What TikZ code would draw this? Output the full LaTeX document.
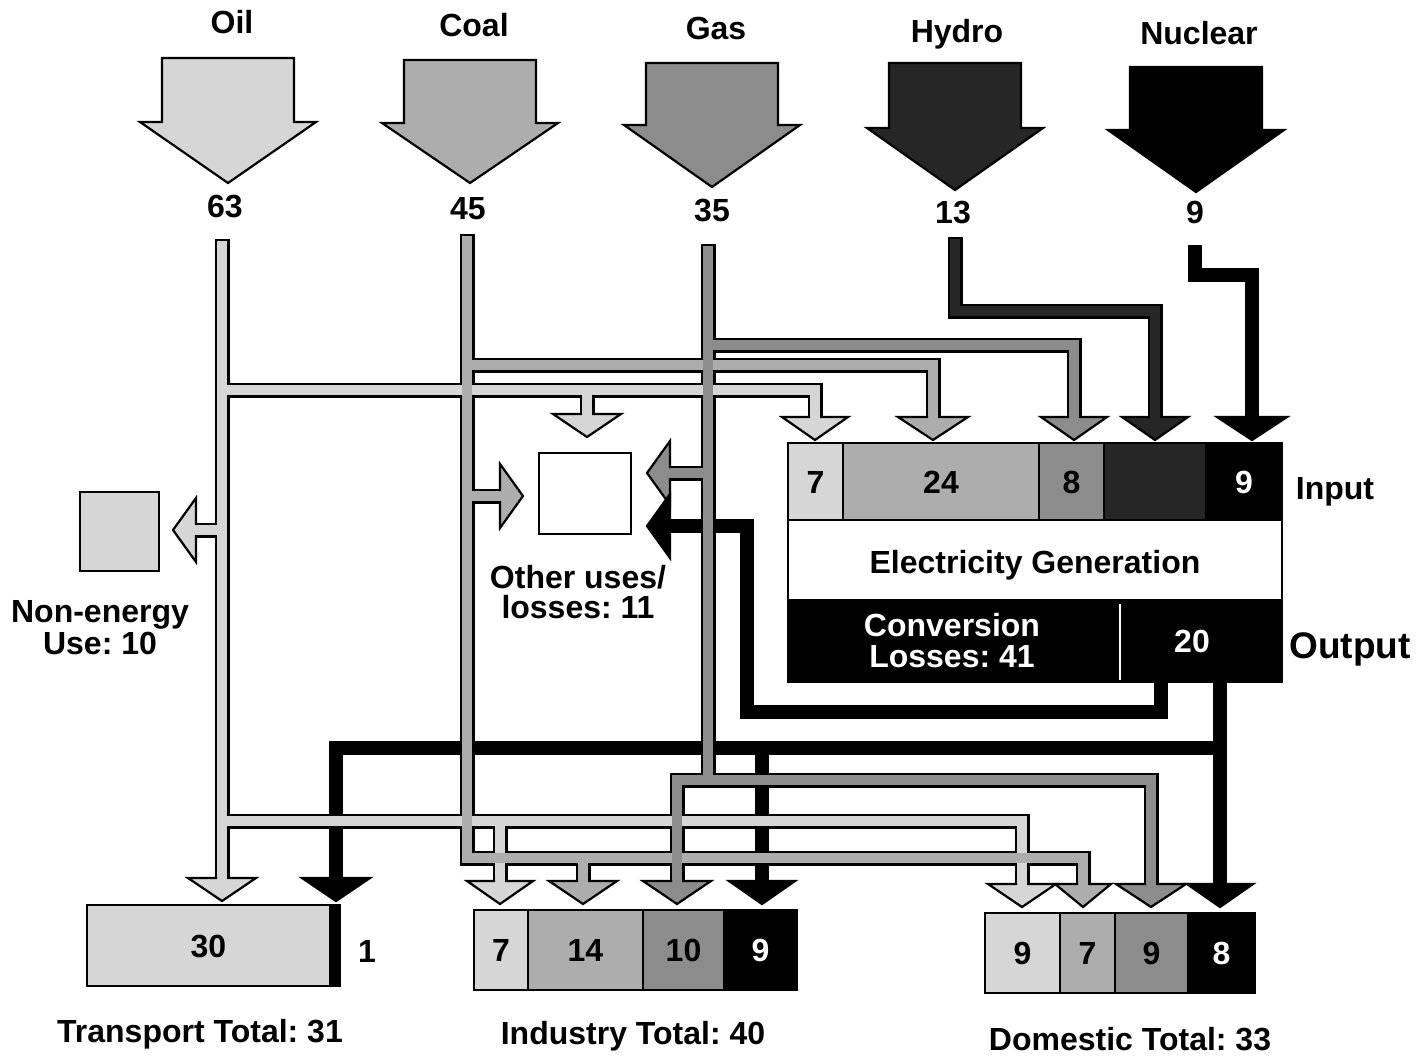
\documentclass[tikz,border=0pt]{standalone}
\usepackage{fontspec}
\setmainfont{Liberation Sans}
\usetikzlibrary{calc}
\frenchspacing
\definecolor{oilc}{gray}{0.84}
\definecolor{coalc}{gray}{0.68}
\definecolor{gasc}{gray}{0.55}
\definecolor{hydroc}{gray}{0.15}
\tikzset{
 lbl/.style={font=\fontsize{32}{36}\selectfont\bfseries, inner sep=0pt, text height=23pt, text depth=0pt},
 wlbl/.style={lbl, text=white},
 cellbox/.style={draw=black, line width=1.8pt, inner sep=0pt, font=\fontsize{32}{36}\selectfont\bfseries, text height=23pt, text depth=0pt},
 bigarrow/.style={draw=black, line width=2.2pt, line join=miter},
 head/.style={draw=black, line width=2.2pt, line join=miter},
 pout/.style={draw=black, line width=15pt, line join=miter, line cap=butt},
 pblk/.style={draw=black, line width=14pt, line join=miter, line cap=butt},
 pfill/.style={line width=10pt, line join=miter, line cap=butt},
 oilP/.style={insert path={(222,240) -- (222,878) (222,390) -- (815,390) -- (815,417) (587,390) -- (587,414) (222,530) -- (196,530) (222,821) -- (1022,821) -- (1022,884) (500,821) -- (500,881)}},
 coalP/.style={insert path={(467,235) -- (467,858) -- (1083,858) -- (1083,884) (467,365) -- (933,365) -- (933,417) (467,496) -- (500,496) (583,858) -- (583,881)}},
 gasP/.style={insert path={(708,245) -- (708,780) (708,345) -- (1074,345) -- (1074,417) (708,473) -- (670,473) (677,881) -- (677,780) -- (1151,780) -- (1151,884)}},
 hydP/.style={insert path={(955,238) -- (955,311) -- (1155,311) -- (1155,417)}},
 nucP/.style={insert path={(1195,245) -- (1195,275) -- (1252,275) -- (1252,417)}},
 elecP/.style={insert path={(1161,682) -- (1161,712) -- (747,712) -- (747,526) -- (670,526) (1220,682) -- (1220,884) (1220,748) -- (336,748) -- (336,878) (762,748) -- (762,881)}},
}
\newcommand\EHsrc[6]{%
 \filldraw[bigarrow, fill=#6] (#2-66,#3) -- (#2+66,#3) -- (#2+66,#4) -- (#2+88,#4) -- (#2,#5) -- (#2-88,#4) -- (#2-66,#4) -- cycle;
 \coordinate (#1) at (#2,#5);}
\newcommand\EHdown[3]{\filldraw[head, fill=#3] ($(#1)+(-5,-23)$) -- ($(#1)+(-#2,-23)$) -- (#1) -- ($(#1)+(#2,-23)$) -- ($(#1)+(5,-23)$);}
\newcommand\EHleft[3]{\filldraw[head, fill=#3] ($(#1)+(23,-5)$) -- ($(#1)+(23,-#2)$) -- (#1) -- ($(#1)+(23,#2)$) -- ($(#1)+(23,5)$);}
\newcommand\EHright[3]{\filldraw[head, fill=#3] ($(#1)+(-23,-5)$) -- ($(#1)+(-23,-#2)$) -- (#1) -- ($(#1)+(-23,#2)$) -- ($(#1)+(-23,5)$);}
\begin{document}
\begin{tikzpicture}[x=1pt,y=-1pt]
\useasboundingbox (0,0) rectangle (1428,1057);
\fill[white] (0,0) rectangle (1428,1057);

% source labels and arrows
\node[lbl] (lOil) at (232,22) {Oil};
\node[lbl] (lCoal) at (474,25) {Coal};
\node[lbl] (lGas) at (716,28) {Gas};
\node[lbl] (lHydro) at (957,31) {Hydro};
\node[lbl] (lNuc) at (1199,33) {Nuclear};
\EHsrc{aOil}{228}{58}{122}{183}{oilc}
\EHsrc{aCoal}{470}{60}{123}{183}{coalc}
\EHsrc{aGas}{712}{63}{125}{187}{gasc}
\EHsrc{aHydro}{955}{63}{128}{190}{hydroc}
\EHsrc{aNuc}{1196}{67}{130}{192}{black}
\node[lbl] (vOil) at (225,206) {63};
\node[lbl] (vCoal) at (468,208) {45};
\node[lbl] (vGas) at (712,210) {35};
\node[lbl] (vHydro) at (953,212) {13};
\node[lbl] (vNuc) at (1195,212) {9};

% boxes
\node[draw, line width=1.8pt, fill=oilc, minimum width=79pt, minimum height=79pt, inner sep=0pt] (nebox) at (119.5,531.5) {};
\node[lbl] (ne1) at (100,611) {Non-energy};
\node[lbl] (ne2) at (100,643) {Use: 10};
\node[draw, line width=1.8pt, fill=white, minimum width=92pt, minimum height=81pt, inner sep=0pt] (oubox) at (585,493.5) {};
\node[lbl] (ou1) at (578,577) {Other uses/};
\node[lbl] (ou2) at (578,607) {losses: 11};

% electricity generation
\node[cellbox, fill=oilc, minimum width=55pt, minimum height=77pt] (in7) at (815.5,481.5) {7};
\node[cellbox, fill=coalc, minimum width=196pt, minimum height=77pt] (in24) at (941,481.5) {24};
\node[cellbox, fill=gasc, minimum width=65pt, minimum height=77pt] (in8) at (1071.5,481.5) {8};
\node[cellbox, fill=hydroc, minimum width=102pt, minimum height=77pt] (inH) at (1155,481.5) {};
\node[cellbox, fill=black, text=white, minimum width=76pt, minimum height=77pt] (in9) at (1244,481.5) {9};
\node[cellbox, fill=white, minimum width=494pt, minimum height=80pt] (gen) at (1035,560) {};
\node[lbl] (genT) at (1035,562) {Electricity Generation};
\node[cellbox, fill=black, minimum width=332pt, minimum height=82pt] (loss) at (954,641) {};
\node[cellbox, fill=black, minimum width=162pt, minimum height=82pt] (out20) at (1201,641) {};
\draw[white, line width=1.5pt] (1120,604) -- (1120,680);
\node[wlbl] (loss1) at (952,625) {Conversion};
\node[wlbl] (loss2) at (952,656) {Losses: 41};
\node[wlbl] (v20) at (1192,641) {20};
\draw[line width=2pt] (788,443) rectangle (1282,682);
\node[lbl] (inL) at (1335,488) {Input};
\node[lbl, font=\fontsize{37}{40}\selectfont\bfseries, text height=26.5pt] (outL) at (1350,645) {Output};

% end-use boxes
\node[cellbox, fill=oilc, minimum width=243pt, minimum height=81pt] (tr30) at (208.5,945.5) {30};
\node[cellbox, fill=black, minimum width=10pt, minimum height=81pt] (tr1b) at (335,945.5) {};
\node[lbl] (tr1) at (367,951) {1};
\node[cellbox, fill=oilc, minimum width=54pt, minimum height=80pt] (ind7) at (501,950) {7};
\node[cellbox, fill=coalc, minimum width=115pt, minimum height=80pt] (ind14) at (585.5,950) {14};
\node[cellbox, fill=gasc, minimum width=81pt, minimum height=80pt] (ind10) at (683.5,950) {10};
\node[cellbox, fill=black, text=white, minimum width=73pt, minimum height=80pt] (ind9) at (760.5,950) {9};
\node[cellbox, fill=oilc, minimum width=75pt, minimum height=80pt] (dom9a) at (1022.5,953) {9};
\node[cellbox, fill=coalc, minimum width=55pt, minimum height=80pt] (dom7) at (1087.5,953) {7};
\node[cellbox, fill=gasc, minimum width=73pt, minimum height=80pt] (dom9b) at (1151.5,953) {9};
\node[cellbox, fill=black, text=white, minimum width=67pt, minimum height=80pt] (dom8) at (1221.5,953) {8};
\node[lbl] (trT) at (200,1031) {Transport Total: 31};
\node[lbl] (indT) at (633,1033) {Industry Total: 40};
\node[lbl] (domT) at (1130,1039) {Domestic Total: 33};

% arrow tips
\coordinate (tTrO) at (222,901);
\coordinate (tTrE) at (336,901);
\coordinate (tInO) at (500,904);
\coordinate (tInC) at (583,904);
\coordinate (tInG) at (677,904);
\coordinate (tInE) at (762,904);
\coordinate (tDoO) at (1022,907);
\coordinate (tDoC) at (1083,907);
\coordinate (tDoG) at (1151,907);
\coordinate (tDoE) at (1220,907);
\coordinate (tEO) at (815,440);
\coordinate (tEC) at (933,440);
\coordinate (tEG) at (1074,440);
\coordinate (tEH) at (1155,440);
\coordinate (tEN) at (1252,440);
\coordinate (tUO) at (587,437);
\coordinate (tUC) at (523,496);
\coordinate (tUG) at (647,473);
\coordinate (tUE) at (647,526);
\coordinate (tNE) at (173,530);

% pipes
\draw[pblk, elecP];
\draw[pblk, nucP];
\draw[pout, hydP];
\draw[pout, oilP];
\draw[pout, coalP];
\draw[pout, gasP];
\draw[pfill, draw=hydroc, hydP];
\draw[pfill, draw=oilc, oilP];
\draw[pfill, draw=coalc, coalP];
\draw[pfill, draw=gasc, gasP];
\foreach \x/\y in {222/240, 467/235, 708/245, 955/238}
  \draw[line width=2.5pt] (\x-7.5,\y) -- (\x+7.5,\y);

% arrow heads
\EHdown{tTrO}{34}{oilc}
\EHdown{tTrE}{34}{black}
\EHdown{tInO}{33}{oilc}
\EHdown{tInC}{34}{coalc}
\EHdown{tInG}{34}{gasc}
\EHdown{tInE}{33}{black}
\EHdown{tDoO}{34}{oilc}
\EHdown{tDoC}{28}{coalc}
\EHdown{tDoG}{35}{gasc}
\EHdown{tDoE}{33}{black}
\EHdown{tEO}{33}{oilc}
\EHdown{tEC}{35}{coalc}
\EHdown{tEG}{33}{gasc}
\EHdown{tEH}{33}{hydroc}
\EHdown{tEN}{35}{black}
\EHdown{tUO}{34}{oilc}
\EHright{tUC}{32}{coalc}
\EHleft{tUG}{32}{gasc}
\EHleft{tUE}{32}{black}
\EHleft{tNE}{32}{oilc}
\end{tikzpicture}
\end{document}
